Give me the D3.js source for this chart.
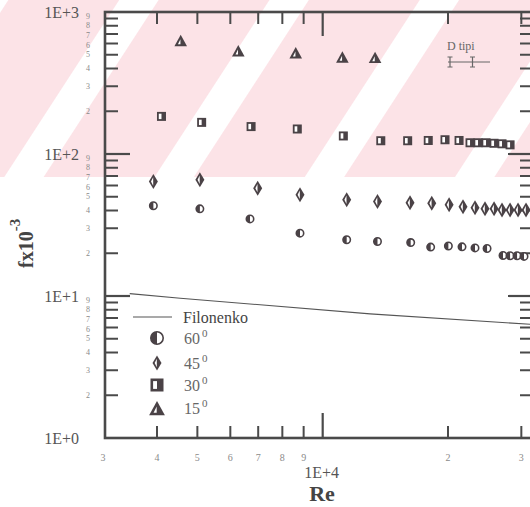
<!DOCTYPE html>
<html>
<head>
<meta charset="utf-8">
<script src="https://cdn.jsdelivr.net/npm/d3@7"></script>
<style>
  html, body { margin: 0; padding: 0; background: #fff; }
  svg { display: block; font-family: "Liberation Serif", "Times New Roman", serif; }
</style>
</head>
<body>
<svg id="chart" width="530" height="507"></svg>
<script>
// Friction factor measurements vs Reynolds number for four twist angles
const re15 = [4560, 6270, 8615, 11150, 13360];
const f15  = [630, 534, 517, 482, 479];

const re30 = [4100, 5120, 6730, 8690, 11210, 13790, 16000, 17930, 19670, 21260,
              22590, 23610, 24680, 25800, 26960, 28190];
const f30  = [184, 167, 156, 150, 134, 124, 124, 124.5, 126, 124.5,
              120, 120, 120, 119, 118, 116];

const re45 = [3920, 5070, 6980, 8820, 11420, 13540, 16210, 18280, 20120, 21730,
              23220, 24540, 25800, 26960, 28190, 29460, 30790];
const f45  = [64, 65.8, 57.5, 51.6, 47.6, 46.3, 45.3, 45.0, 43.9, 42.5,
              41.8, 41.1, 41.1, 40.4, 40.4, 40.4, 40.4];

const re60 = [3920, 5070, 6690, 8820, 11420, 13540, 16270, 18170, 20040, 21610,
              23220, 24820, 27110, 28190, 29300, 30450];
const f60  = [43.2, 41.1, 34.9, 27.7, 24.9, 24.2, 23.8, 22.1, 22.5, 22.2,
              21.8, 21.6, 19.3, 19.2, 19.2, 19.0];

// Filonenko smooth-tube correlation
const reFil = [3440, 4550, 13000, 32000];
const fFil  = [10.4, 9.65, 7.48, 6.3];

// Axis ticks
const xMinorTicks = [4000, 5000, 6000, 7000, 8000, 9000, 20000, 30000];
const xMinorLabels = ["4", "5", "6", "7", "8", "9", "2", "3"];
const xMajorTicks = [10000];
const xMajorLabels = ["1E+4"];
const xStartLabel = "3";
const yDecades = [1, 10, 100, 1000];
const yDecadeLabels = ["1E+0", "1E+1", "1E+2", "1E+3"];
const yMinorDigits = [2, 3, 4, 5, 6, 7, 8, 9];

const legendItems = [
  { shape: "circle",   label: "60" },
  { shape: "diamond",  label: "45" },
  { shape: "square",   label: "30" },
  { shape: "triangle", label: "15" }
];

const INK = "#4a4246";
const AXIS = "#4a4a4a";

const svg = d3.select("#chart");

// Faint pink diagonal bands across the upper band of the figure
const defs = svg.append("defs");
const pat = defs.append("pattern")
  .attr("id", "bands")
  .attr("patternUnits", "userSpaceOnUse")
  .attr("width", 126).attr("height", 20)
  .attr("patternTransform", "rotate(33)");
pat.append("rect").attr("x", 7).attr("y", 0).attr("width", 93).attr("height", 20)
  .attr("fill", "#fce3e7");
svg.append("rect").attr("x", 0).attr("y", 0).attr("width", 530).attr("height", 177)
  .attr("fill", "url(#bands)");

const pL = 105, pR = 533, pT = 12, pB = 438;
const x = d3.scaleLog().domain([3000, 32000]).range([pL, pR]);
const y = d3.scaleLog().domain([1, 1000]).range([pB, pT]);

// Frame
const axisG = svg.append("g");
axisG.append("rect")
  .attr("x", pL).attr("y", pT)
  .attr("width", pR - pL).attr("height", pB - pT)
  .attr("fill", "none").attr("stroke", AXIS).attr("stroke-width", 2.6);

// Y ticks (left and right, inward); the crowded upper digits are spread slightly
const labelNudge = { 9: -2, 7: 1, 6: 1.5 };
const yMinor = [];
yDecades.slice(0, 3).forEach(d => yMinorDigits.forEach(m => yMinor.push({ v: d * m, m })));
yMinor.forEach(t => {
  const yy = y(t.v);
  axisG.append("line").attr("x1", pL).attr("x2", pL + 13).attr("y1", yy).attr("y2", yy)
    .attr("stroke", AXIS).attr("stroke-width", 2);
  axisG.append("line").attr("x1", pR).attr("x2", pR - 13).attr("y1", yy).attr("y2", yy)
    .attr("stroke", AXIS).attr("stroke-width", 2);
  svg.append("text").attr("x", 88).attr("y", yy + (labelNudge[t.m] || 0)).attr("dy", "0.33em")
    .attr("text-anchor", "middle").attr("font-size", 8).attr("fill", "#8a8a8a")
    .text(t.m);
});
yDecades.forEach((d, i) => {
  const yy = y(d);
  if (d > 1 && d < 1000) {
    axisG.append("line").attr("x1", pL).attr("x2", pL + 25).attr("y1", yy).attr("y2", yy)
      .attr("stroke", AXIS).attr("stroke-width", 2.2);
    axisG.append("line").attr("x1", pR).attr("x2", pR - 25).attr("y1", yy).attr("y2", yy)
      .attr("stroke", AXIS).attr("stroke-width", 2.2);
  }
  svg.append("text").attr("x", 79).attr("y", yy).attr("dy", "0.35em")
    .attr("text-anchor", "end").attr("font-size", 16).attr("fill", "#555")
    .text(yDecadeLabels[i]);
});

// X ticks (bottom and top, inward)
xMinorTicks.forEach((v, i) => {
  const xx = x(v);
  axisG.append("line").attr("x1", xx).attr("x2", xx).attr("y1", pB).attr("y2", pB - 12)
    .attr("stroke", AXIS).attr("stroke-width", 2);
  axisG.append("line").attr("x1", xx).attr("x2", xx).attr("y1", pT).attr("y2", pT + 12)
    .attr("stroke", AXIS).attr("stroke-width", 2);
  svg.append("text").attr("x", xx).attr("y", 457).attr("dy", "0.35em")
    .attr("text-anchor", "middle").attr("font-size", 10).attr("fill", "#8a8a8a")
    .text(xMinorLabels[i]);
});
svg.append("text").attr("x", x(3000) - 2).attr("y", 457).attr("dy", "0.35em")
  .attr("text-anchor", "middle").attr("font-size", 10).attr("fill", "#8a8a8a")
  .text(xStartLabel);
xMajorTicks.forEach((v, i) => {
  const xx = x(v);
  axisG.append("line").attr("x1", xx).attr("x2", xx).attr("y1", pB).attr("y2", pB - 25)
    .attr("stroke", AXIS).attr("stroke-width", 2.2);
  axisG.append("line").attr("x1", xx).attr("x2", xx).attr("y1", pT).attr("y2", pT + 24)
    .attr("stroke", AXIS).attr("stroke-width", 2.2);
  svg.append("text").attr("x", xx - 1).attr("y", 472).attr("dy", "0.35em")
    .attr("text-anchor", "middle").attr("font-size", 16).attr("fill", "#555")
    .text(xMajorLabels[i]);
});

// Axis titles
svg.append("text").attr("x", 322).attr("y", 501)
  .attr("text-anchor", "middle").attr("font-size", 22).attr("font-weight", "bold")
  .attr("fill", "#444").text("Re");
const yt = svg.append("text")
  .attr("transform", "translate(33,268) rotate(-90)")
  .attr("font-size", 20).attr("font-weight", "bold").attr("fill", "#444");
yt.append("tspan").text("fx10");
yt.append("tspan").attr("dy", -13).attr("font-size", 15).text("-3");

// Marker drawing helpers
function drawMarker(g, shape, cx, cy, s) {
  const h = s / 2;
  if (shape === "square") {
    g.append("rect").attr("x", cx - h).attr("y", cy - h).attr("width", s).attr("height", s)
      .attr("fill", INK);
    g.append("rect").attr("x", cx - h + s * 0.2).attr("y", cy - h + s * 0.2)
      .attr("width", s * 0.3).attr("height", s * 0.6).attr("fill", "#fff");
  } else if (shape === "circle") {
    const r = h;
    g.append("circle").attr("cx", cx).attr("cy", cy).attr("r", r - 0.8)
      .attr("fill", "#fff").attr("stroke", INK).attr("stroke-width", 1.6);
    g.append("path")
      .attr("d", `M${cx},${cy - r + 0.8} A${r - 0.8},${r - 0.8} 0 0 0 ${cx},${cy + r - 0.8} Z`)
      .attr("fill", INK);
  } else if (shape === "diamond") {
    const w = s * 0.6, hh = s;
    g.append("path")
      .attr("d", `M${cx},${cy - hh / 2} L${cx + w / 2},${cy} L${cx},${cy + hh / 2} L${cx - w / 2},${cy} Z`)
      .attr("fill", INK);
    g.append("path")
      .attr("d", `M${cx - 0.2},${cy - hh * 0.28} L${cx - 0.2},${cy + hh * 0.28} L${cx - w * 0.26},${cy} Z`)
      .attr("fill", "#fff");
  } else if (shape === "triangle") {
    const w = s * 1.05, hh = s * 0.95;
    g.append("path")
      .attr("d", `M${cx},${cy - hh / 2} L${cx + w / 2},${cy + hh / 2} L${cx - w / 2},${cy + hh / 2} Z`)
      .attr("fill", INK);
    g.append("path")
      .attr("d", `M${cx - 0.3},${cy - hh * 0.1} L${cx - 0.3},${cy + hh * 0.33} L${cx - w * 0.22},${cy + hh * 0.33} Z`)
      .attr("fill", "#fff");
  }
}

// Filonenko line
svg.append("path")
  .datum(reFil.map((r, i) => [r, fFil[i]]))
  .attr("d", d3.line().x(d => x(d[0])).y(d => y(d[1])))
  .attr("fill", "none").attr("stroke", "#555").attr("stroke-width", 1.1);

// Data points
const series = [
  { re: re60, f: f60, shape: "circle",   size: 9 },
  { re: re45, f: f45, shape: "diamond",  size: 15 },
  { re: re30, f: f30, shape: "square",   size: 9 },
  { re: re15, f: f15, shape: "triangle", size: 12 }
];
const pts = svg.append("g");
series.forEach(s => {
  s.re.forEach((r, i) => drawMarker(pts, s.shape, x(r), y(s.f[i]), s.size));
});

// Legend
const lg = svg.append("g");
lg.append("line").attr("x1", 133).attr("x2", 172).attr("y1", 317).attr("y2", 317)
  .attr("stroke", "#555").attr("stroke-width", 1.1);
lg.append("text").attr("x", 183).attr("y", 317).attr("dy", "0.35em")
  .attr("font-size", 16).attr("fill", "#444").text("Filonenko");
const legY = [338, 363, 385, 408];
const legSize = { circle: 14, diamond: 15, square: 13, triangle: 15 };
legendItems.forEach((it, i) => {
  drawMarker(lg, it.shape, 157, legY[i], legSize[it.shape]);
  const t = lg.append("text").attr("x", 184).attr("y", legY[i]).attr("dy", "0.35em")
    .attr("font-size", 16).attr("fill", "#666");
  t.append("tspan").text(it.label);
  t.append("tspan").attr("dy", -7).attr("dx", 2).attr("font-size", 11).text("0");
});

// Hole-type key with the error-bar sketch
lg.append("text").attr("x", 447).attr("y", 50).attr("font-size", 12).attr("fill", "#666")
  .text("D tipi");
lg.append("line").attr("x1", 448).attr("x2", 490).attr("y1", 62).attr("y2", 62)
  .attr("stroke", "#666").attr("stroke-width", 1);
[450, 472.5].forEach(bx => {
  lg.append("line").attr("x1", bx).attr("x2", bx).attr("y1", 57).attr("y2", 67)
    .attr("stroke", "#666").attr("stroke-width", 1.2);
  lg.append("line").attr("x1", bx - 2.5).attr("x2", bx + 2.5).attr("y1", 57).attr("y2", 57)
    .attr("stroke", "#666").attr("stroke-width", 1);
  lg.append("line").attr("x1", bx - 2.5).attr("x2", bx + 2.5).attr("y1", 67).attr("y2", 67)
    .attr("stroke", "#666").attr("stroke-width", 1);
});
</script>
</body>
</html>
